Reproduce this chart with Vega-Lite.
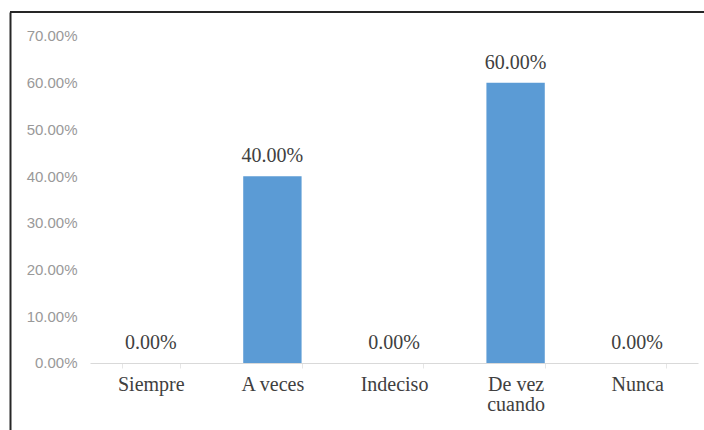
{
  "$schema": "https://vega.github.io/schema/vega-lite/v6.json",
  "autosize": "none",
  "width": 694,
  "height": 418,
  "padding": {"left": 10, "top": 12, "right": 0, "bottom": 0},
  "background": "white",
  "config": {
    "view": {"stroke": null},
    "axis": {"grid": false}
  },
  "data": {
    "values": [
      {"respuesta": "Siempre", "porcentaje": 0.0},
      {"respuesta": "A veces", "porcentaje": 0.4},
      {"respuesta": "Indeciso", "porcentaje": 0.0},
      {"respuesta": "De vez cuando", "porcentaje": 0.6},
      {"respuesta": "Nunca", "porcentaje": 0.0}
    ]
  },
  "layer": [
    {
      "mark": {"type": "bar", "color": "#5b9bd5"},
      "encoding": {
        "x": {
          "field": "respuesta",
          "type": "nominal",
          "sort": null,
          "scale": {"range": [80, 688], "paddingInner": 0.52, "paddingOuter": 0.26},
          "axis": {
            "title": null,
            "orient": "bottom",
            "offset": -67,
            "labelAngle": 0,
            "labelFont": "Liberation Serif",
            "labelFontSize": 20,
            "labelColor": "#404040",
            "labelBaseline": "top",
            "labelPadding": 6,
            "labelLineHeight": 20,
            "labelExpr": "datum.label == 'De vez cuando' ? ['De vez', 'cuando'] : datum.label",
            "domainColor": "#d9d9d9",
            "domainWidth": 1,
            "tickBand": "extent",
            "tickColor": "#e6e6e6",
            "tickSize": 5
          }
        },
        "y": {
          "field": "porcentaje",
          "type": "quantitative",
          "scale": {"domain": [-0.14343, 0.75137], "nice": false, "zero": false},
          "axis": {
            "title": null,
            "orient": "left",
            "offset": -70,
            "values": [0, 0.1, 0.2, 0.3, 0.4, 0.5, 0.6, 0.7],
            "format": ".2%",
            "labelFont": "Liberation Sans",
            "labelFontSize": 15,
            "labelColor": "#999999",
            "labelPadding": 3,
            "domain": false,
            "ticks": false
          }
        }
      }
    },
    {
      "mark": {
        "type": "text",
        "font": "Liberation Serif",
        "fontSize": 20,
        "color": "#404040",
        "baseline": "alphabetic",
        "dy": -14
      },
      "encoding": {
        "x": {"field": "respuesta", "type": "nominal", "sort": null},
        "y": {
          "field": "porcentaje",
          "type": "quantitative",
          "scale": {"domain": [-0.14343, 0.75137], "nice": false, "zero": false},
          "axis": null
        },
        "text": {"field": "porcentaje", "type": "quantitative", "format": ".2%"}
      }
    },
    {
      "mark": {"type": "rule", "color": "#262626", "strokeWidth": 2},
      "encoding": {
        "y": {
          "datum": 0.75137,
          "type": "quantitative",
          "axis": {
            "title": null,
            "orient": "left",
            "offset": 0,
            "labels": false,
            "ticks": false,
            "values": [],
            "domain": true,
            "domainColor": "#262626",
            "domainWidth": 2
          }
        }
      }
    }
  ],
  "resolve": {"axis": {"y": "independent"}}
}
